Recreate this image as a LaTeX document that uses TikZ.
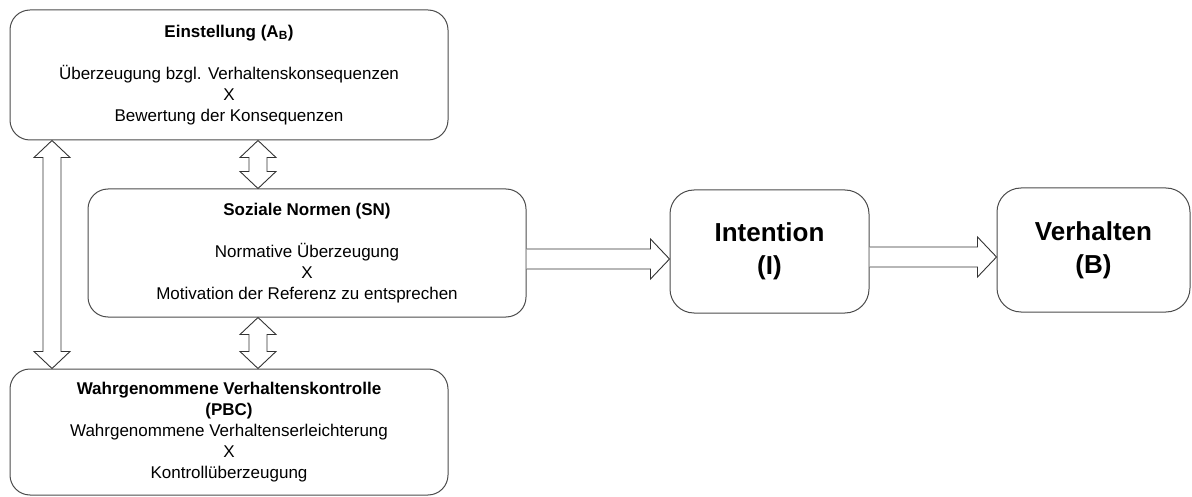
\documentclass[tikz,border=0pt]{standalone}
\usepackage{fontspec}
\setmainfont{Liberation Sans}
\usepackage{tikz}
\usetikzlibrary{calc,positioning}
\definecolor{boxline}{rgb}{0.3, 0.3, 0.3}
\definecolor{arrowline}{rgb}{0.2, 0.2, 0.2}

\begin{document}
\begin{tikzpicture}[x=1pt, y=-1pt]
\useasboundingbox (0,0) rectangle (1192,497);
\tikzstyle{factor}=[draw=boxline, line width=1pt, rounded corners=20pt, inner sep=0pt, align=center, font=\fontsize{17}{21}\selectfont]
\tikzstyle{result}=[draw=boxline, line width=1pt, rounded corners=24pt, inner sep=0pt, align=center, font=\fontsize{26}{33}\selectfont\bfseries]
\tikzstyle{barrow}=[draw=arrowline, line width=0.9pt, fill=white, line join=miter]
%%
\node (ab) at (229,75) [factor, minimum width=438pt, minimum height=130pt]
  {\textbf{Einstellung (A\textsubscript{B})}\\[21pt]
   Überzeugung bzgl. Verhaltenskonsequenzen\\X\\Bewertung der Konsequenzen};
\node (sn) at (307,253) [factor, minimum width=438pt, minimum height=128pt]
  {\textbf{Soziale Normen (SN)}\\[21pt]
   Normative Überzeugung\\X\\Motivation der Referenz zu entsprechen};
\node (pbc) at (229,432) [factor, minimum width=438pt, minimum height=126pt]
  {\textbf{Wahrgenommene Verhaltenskontrolle}\\\textbf{(PBC)}\\
   Wahrgenommene Verhaltenserleichterung\\X\\Kontrollüberzeugung};
\node (int) at (769.5,251.5) [result, minimum width=199pt, minimum height=123pt] {Intention\\(I)};
\node (beh) at (1093.5,250) [result, minimum width=193pt, minimum height=124pt] {Verhalten\\(B)};

%% where the arrows sit
\coordinate (xl) at (52,0);
\coordinate (xs) at (258,0);
\coordinate (yi) at (0,259);
\coordinate (yb) at (0,257);

\coordinate (l1) at (ab.south -| xl);
\coordinate (l2) at (pbc.north -| xl);
\coordinate (s1) at (ab.south -| xs);
\coordinate (s2) at (sn.north -| xs);
\coordinate (s3) at (sn.south -| xs);
\coordinate (s4) at (pbc.north -| xs);
\coordinate (h1) at (sn.east |- yi);
\coordinate (h2) at (int.west |- yi);
\coordinate (h3) at (int.east |- yb);
\coordinate (h4) at (beh.west |- yb);

\draw [barrow] (l1) -- ++(18,17) -- ++(-9,0) -- ($(l2)+(9,-17)$) -- ++(9,0) -- (l2)
  -- ++(-18,-17) -- ++(9,0) -- ($(l1)+(-9,17)$) -- ++(-9,0) -- cycle;
\draw [barrow] (s1) -- ++(18,17) -- ++(-9,0) -- ($(s2)+(9,-17)$) -- ++(9,0) -- (s2)
  -- ++(-18,-17) -- ++(9,0) -- ($(s1)+(-9,17)$) -- ++(-9,0) -- cycle;
\draw [barrow] (s3) -- ++(18,17) -- ++(-9,0) -- ($(s4)+(9,-17)$) -- ++(9,0) -- (s4)
  -- ++(-18,-17) -- ++(9,0) -- ($(s3)+(-9,17)$) -- ++(-9,0) -- cycle;

\draw [barrow] ($(h1)+(0,-10)$) -- ($(h2)+(-19,-10)$) -- ++(0,-10) -- (h2)
  -- ++(-19,20) -- ++(0,-10) -- ($(h1)+(0,10)$);
\draw [barrow] ($(h3)+(0,-10)$) -- ($(h4)+(-19,-10)$) -- ++(0,-10) -- (h4)
  -- ++(-19,20) -- ++(0,-10) -- ($(h3)+(0,10)$);
\end{tikzpicture}
\end{document}
